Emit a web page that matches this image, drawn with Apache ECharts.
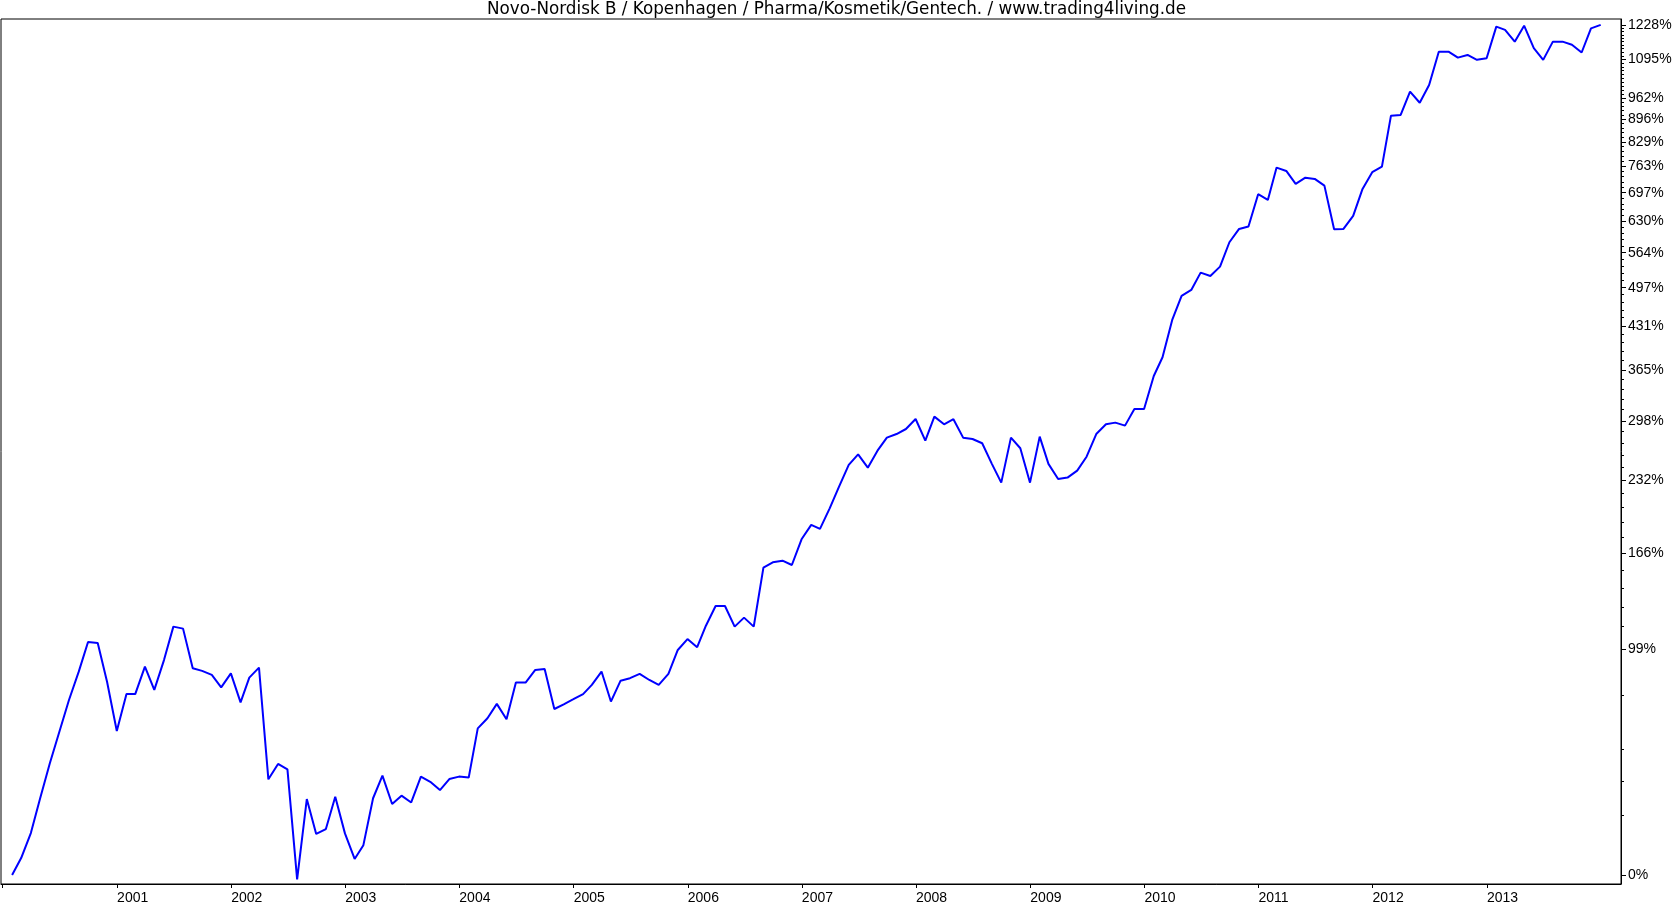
<!DOCTYPE html>
<html><head><meta charset="utf-8">
<script src="https://cdn.jsdelivr.net/npm/echarts@6/dist/echarts.min.js"></script>
<style>html,body{margin:0;padding:0;background:#fff}#c{width:1673px;height:906px}</style>
</head><body><div id="c"></div><script>
// Monthly performance (%) relative to start, month-end values
const perf2000 = [0, 5.3, 13.6, 26.4, 40.6, 54.5, 70.3, 85.5, 103.2, 102.6, 79.9, 55.0];
const perf2001 = [73.4, 73.4, 88.5, 75.6, 92.3, 112.9, 111.6, 87.6, 86.1, 83.8, 77.0, 84.7];
const perf2002 = [69.1, 82.3, 87.9, 33.8, 40.2, 37.9, -1.3, 26.0, 13.3, 15.0, 26.9, 13.5];
const perf2003 = [5.0, 9.5, 26.3, 35.3, 24.1, 27.3, 24.7, 34.9, 32.8, 29.5, 33.9, 34.9];
const perf2004 = [34.5, 56.2, 61.1, 68.3, 60.6, 79.6, 79.6, 86.6, 87.2, 65.7, 68.1, 70.7];
const perf2005 = [73.4, 78.3, 85.7, 69.5, 80.6, 82.0, 84.4, 81.0, 78.3, 84.4, 98.3, 105.0];
const perf2006 = [100.0, 113.5, 126.7, 126.7, 112.9, 118.8, 112.9, 154.7, 158.9, 160.2, 156.8, 177.7];
const perf2007 = [190.1, 186.6, 205.1, 226.0, 248.2, 259.6, 245.3, 263.6, 278.3, 282.5, 288.4, 300.4];
const perf2008 = [274.9, 303.3, 294.0, 300.1, 278.3, 276.8, 271.9, 249.3, 229.9, 278.3, 266.3, 229.9];
const perf2009 = [279.5, 249.3, 233.6, 235.0, 242.2, 257.0, 282.5, 294.0, 296.0, 292.4, 312.8, 312.8];
const perf2010 = [356.4, 383.2, 441.3, 482.3, 493.0, 525.0, 518.7, 536.5, 585.5, 613.9, 619.0, 693.4];
const perf2011 = [679.8, 760.3, 751.6, 718.6, 734.4, 731.1, 714.3, 613.2, 613.9, 642.7, 706.2, 748.3];
const perf2012 = [762.9, 907.6, 909.7, 984, 948, 1006, 1124, 1124, 1102, 1112, 1094, 1100];
const perf2013 = [1221, 1208, 1162, 1225, 1137, 1094, 1162, 1162, 1150, 1121, 1214, 1228];

const years = [2000, 2001, 2002, 2003, 2004, 2005, 2006, 2007, 2008, 2009, 2010, 2011, 2012, 2013];
const perfByYear = [perf2000, perf2001, perf2002, perf2003, perf2004, perf2005, perf2006,
                    perf2007, perf2008, perf2009, perf2010, perf2011, perf2012, perf2013];

// y axis: labelled ticks (%), and small ticks (%)
const yTickLabels = [0, 99, 166, 232, 298, 365, 431, 497, 564, 630, 697, 763, 829, 896, 962, 1095, 1228];
const yMinorLow = [19.9, 33.2, 46.5, 73.0];          // small ticks below 99%
const yMinorStep = 13.28;                            // small-tick spacing above 99%
const yMinorFrom = 99.6, yMinorTo = 1228;

const xTickYears = [2000, 2001, 2002, 2003, 2004, 2005, 2006, 2007, 2008, 2009, 2010, 2011, 2012, 2013];
const xLabelYears = [2001, 2002, 2003, 2004, 2005, 2006, 2007, 2008, 2009, 2010, 2011, 2012, 2013];
const titleText = 'Novo-Nordisk B / Kopenhagen / Pharma/Kosmetik/Gentech. / www.trading4living.de';

const data = [];
years.forEach((y, i) => {
  perfByYear[i].forEach((p, m) => {
    data.push([new Date(y, m + 1, 0).getTime(), 1 + p / 100]);
  });
});
const yTickVals = yTickLabels.map(p => 1 + p / 100);
const yMinorPct = yMinorLow.slice();
for (let p = yMinorFrom + yMinorStep; p < yMinorTo - 2; p += yMinorStep) {
  if (!yTickLabels.some(l => Math.abs(l - p) < 2)) yMinorPct.push(p);
}
const yMinorVals = yMinorPct.map(p => 1 + p / 100);
const xTickVals = xTickYears.map(y => new Date(y, 0, 1).getTime());
const xLabelVals = xLabelYears.map(y => new Date(y, 0, 1).getTime());

const FONT = '"Liberation Sans", Arial, sans-serif';
const YMIN = 0.973, YMAX = 13.52;
const chart = echarts.init(document.getElementById('c'), null, {renderer: 'canvas'});
chart.setOption({
  animation: false,
  backgroundColor: '#ffffff',
  title: {
    text: titleText, left: 'center', top: 1, padding: 0,
    textStyle: {fontSize: 16.8, fontWeight: 'normal', color: '#000', fontFamily: '"DejaVu Sans", sans-serif', lineHeight: 18}
  },
  grid: {left: 1, right: 52, top: 19, bottom: 22, show: true, borderColor: '#000', borderWidth: 1,
         containLabel: false, outerBoundsMode: 'none'},
  xAxis: {
    type: 'value',
    min: new Date(1999, 11, 26, 12).getTime(),
    max: new Date(2014, 2, 6).getTime(),
    axisLine: {show: true, onZero: false, lineStyle: {color: '#000', width: 1}},
    axisTick: {show: true, length: 4, customValues: xTickVals, lineStyle: {color: '#000'}},
    axisLabel: {customValues: xLabelVals, formatter: v => String(new Date(v).getFullYear()),
                align: 'left', margin: 7, color: '#000', fontSize: 14, fontFamily: FONT},
    splitLine: {show: false}
  },
  yAxis: [{
    type: 'log', logBase: 10, position: 'right',
    min: YMIN, max: YMAX,
    axisLine: {show: true, lineStyle: {color: '#000', width: 1}},
    axisTick: {show: true, length: 5, customValues: yTickVals, lineStyle: {color: '#000'}},
    axisLabel: {customValues: yTickVals, formatter: v => Math.round((v - 1) * 100) + '%',
                margin: 7, color: '#000', fontSize: 14, fontFamily: FONT},
    splitLine: {show: false}, minorTick: {show: false}
  }, {
    type: 'log', logBase: 10, position: 'right',
    min: YMIN, max: YMAX,
    axisLine: {show: false},
    axisTick: {show: true, length: 3, customValues: yMinorVals, lineStyle: {color: '#000'}},
    axisLabel: {show: false},
    splitLine: {show: false}
  }],
  series: [{
    type: 'line', data: data, yAxisIndex: 0, symbol: 'none', showSymbol: false,
    lineStyle: {color: '#0000ff', width: 2}, itemStyle: {color: '#0000ff'}
  }]
});
</script></body></html>
